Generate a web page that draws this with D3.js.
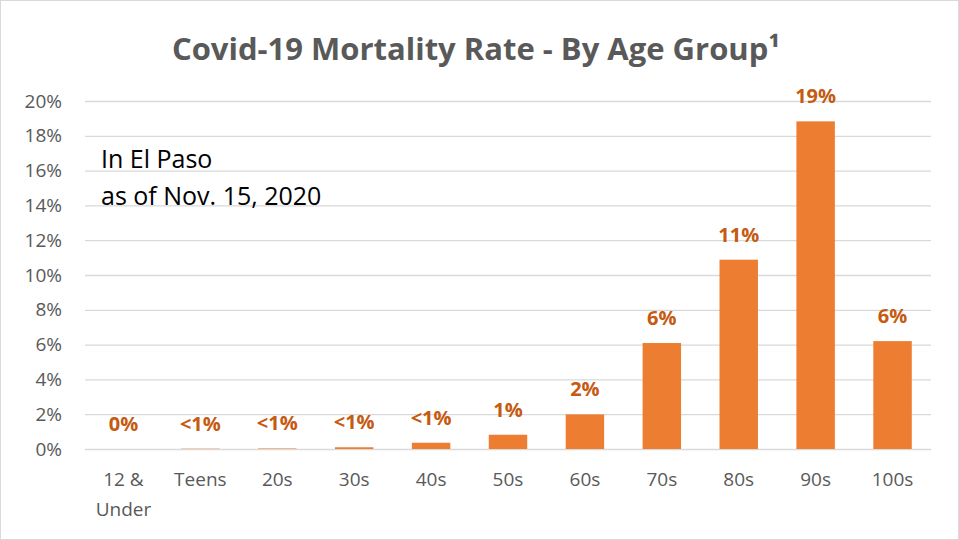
<!DOCTYPE html>
<html>
<head>
<meta charset="utf-8">
<script src="https://cdn.jsdelivr.net/npm/d3@7"></script>
<style>
  body { margin: 0; background: #fff; }
  text { font-family: "Open Sans", "Liberation Sans", sans-serif; }
</style>
</head>
<body>
<svg width="959" height="540"></svg>
<script>
// values
var categories = ["12 & Under", "Teens", "20s", "30s", "40s", "50s", "60s", "70s", "80s", "90s", "100s"];
var rates = [0, 0.02, 0.03, 0.1, 0.36, 0.82, 1.99, 6.09, 10.88, 18.83, 6.2];
var valueLabels = ["0%", "<1%", "<1%", "<1%", "<1%", "1%", "2%", "6%", "11%", "19%", "6%"];
var yTicks = [0, 2, 4, 6, 8, 10, 12, 14, 16, 18, 20];

var svg = d3.select("svg"),
    width = +svg.attr("width"),
    height = +svg.attr("height"),
    margin = {top: 101, right: 28, bottom: 91, left: 85};

var x = d3.scaleBand()
    .domain(categories)
    .range([margin.left, width - margin.right])
    .paddingInner(0.5)
    .paddingOuter(0.25);

var y = d3.scaleLinear()
    .domain([0, 20])
    .range([height - margin.bottom, margin.top]);

// outer border
svg.append("rect")
    .attr("x", 0.5).attr("y", 0.5)
    .attr("width", width - 1).attr("height", height - 1)
    .attr("fill", "#fff")
    .attr("stroke", "#d9d9d9");

svg.append("text")
    .attr("x", 476)
    .attr("y", 60)
    .attr("text-anchor", "middle")
    .style("font-size", "31px")
    .style("font-weight", "bold")
    .style("fill", "#595959")
    .text("Covid-19 Mortality Rate - By Age Group\u00b9");

// gridlines + y labels
var yAxis = svg.append("g")
    .attr("transform", "translate(" + margin.left + ",0)")
    .call(d3.axisLeft(y)
      .tickValues(yTicks)
      .tickSize(-(width - margin.left - margin.right))
      .tickPadding(23)
      .tickFormat(function(d) { return d + "%"; }));

yAxis.select(".domain").remove();
yAxis.selectAll("line").attr("stroke", "#d9d9d9").attr("stroke-width", 1.3);
yAxis.selectAll("text")
    .style("font-size", "19px")
    .style("fill", "#595959")
    .style("font-family", "'Open Sans', sans-serif");

// x labels
var xAxis = svg.append("g")
    .attr("transform", "translate(0," + (height - margin.bottom) + ")")
    .call(d3.axisBottom(x).tickSize(0).tickPadding(0));
xAxis.select(".domain").remove();
xAxis.selectAll("text").remove();
xAxis.selectAll(".tick").each(function(d) {
  var words = d === "12 & Under" ? ["12 &", "Under"] : [d];
  var t = d3.select(this).append("text")
      .attr("text-anchor", "middle")
      .style("font-size", "19px")
      .style("fill", "#595959")
      .style("font-family", "'Open Sans', sans-serif");
  words.forEach(function(w, i) {
    t.append("tspan").attr("x", 0).attr("y", 37 + i * 30).text(w);
  });
});

// bars
svg.selectAll(".bar")
    .data(rates)
    .enter().append("rect")
    .attr("class", "bar")
    .attr("x", function(d, i) { return x(categories[i]); })
    .attr("y", function(d) { return y(d); })
    .attr("width", x.bandwidth())
    .attr("height", function(d) { return y(0) - y(d); })
    .attr("fill", "#ed7d31");

// value labels
svg.selectAll(".vlabel")
    .data(rates)
    .enter().append("text")
    .attr("class", "vlabel")
    .attr("x", function(d, i) { return x(categories[i]) + x.bandwidth() / 2; })
    .attr("y", function(d) { return y(d) - 18; })
    .attr("text-anchor", "middle")
    .style("font-size", "20px")
    .style("font-weight", "bold")
    .style("fill", "#c55a11")
    .text(function(d, i) { return valueLabels[i]; });

// annotation
var note = svg.append("text")
    .style("font-size", "25px")
    .style("fill", "#000");
note.append("tspan").attr("x", 101).attr("y", 168).text("In El Paso");
note.append("tspan").attr("x", 101).attr("y", 205).text("as of Nov. 15, 2020");
</script>
</body>
</html>
